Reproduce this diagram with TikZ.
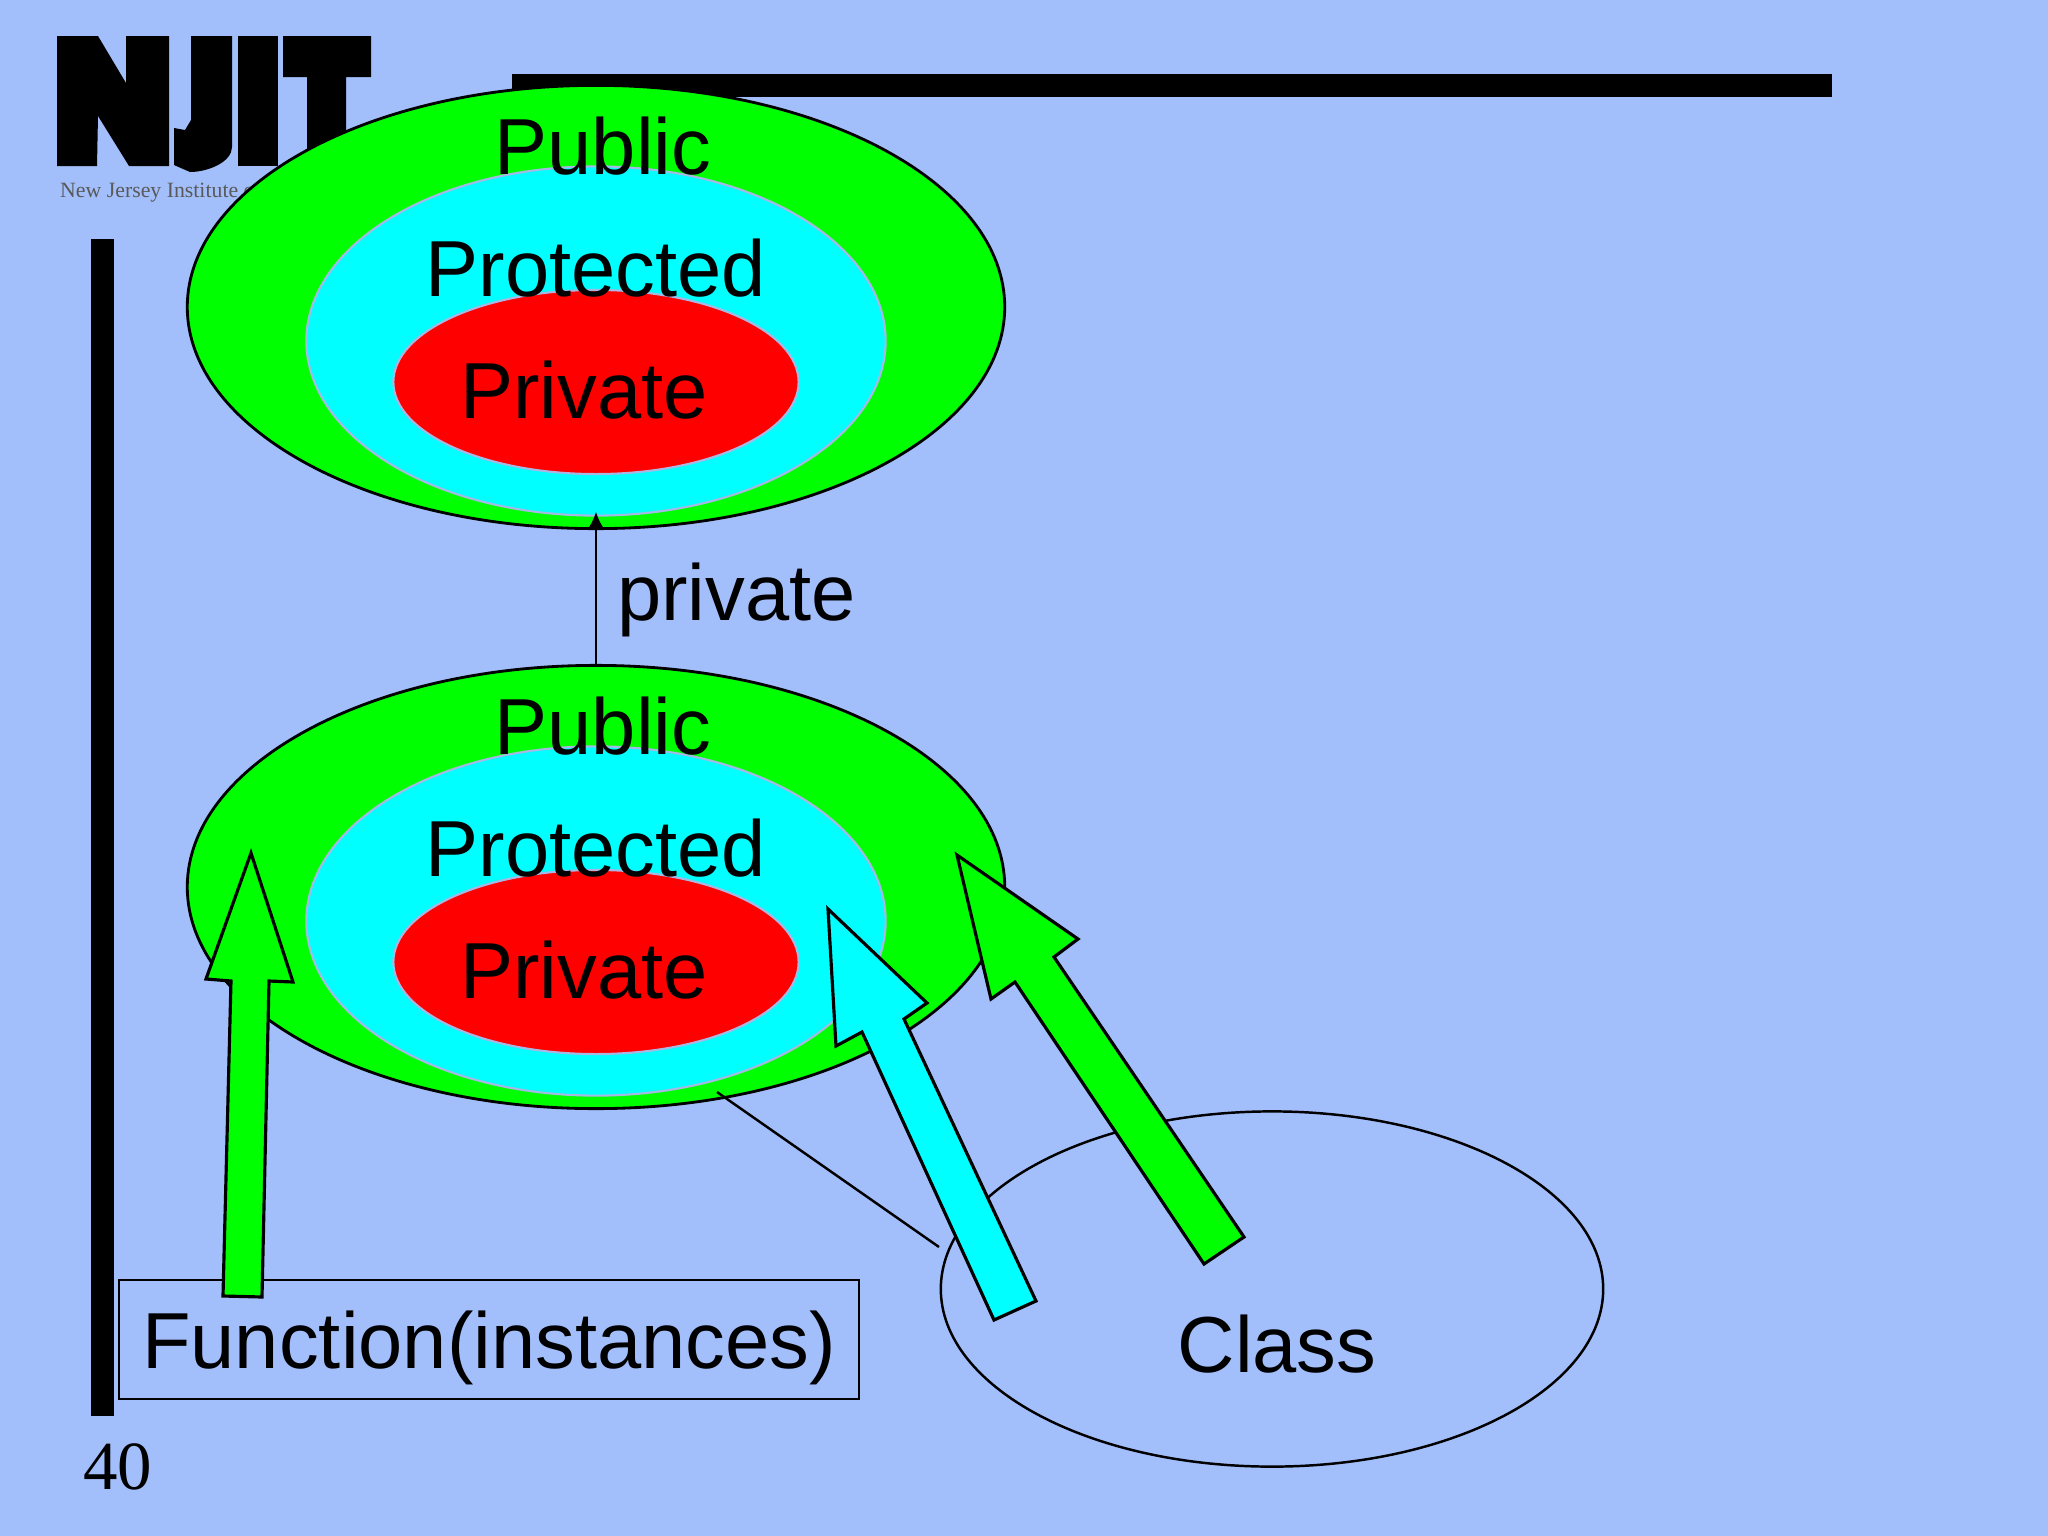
\documentclass[tikz,border=0pt]{standalone}
\usepackage{fontspec}
\setmainfont{Liberation Sans}
\newfontfamily\pagefont{Liberation Serif}
\usetikzlibrary{shapes.geometric, arrows.meta}

\definecolor{slideblue}{HTML}{A3BFFB}
\definecolor{ringedge}{HTML}{A6B8E4}
\definecolor{ringgreen}{HTML}{00FF00}
\definecolor{ringcyan}{HTML}{00FFFF}
\definecolor{ringred}{HTML}{FF0000}

\tikzset{
  bigtext/.style={anchor=base, inner sep=0pt, font=\fontsize{22.6}{27}\selectfont},
  publicring/.style={ellipse, draw=black, fill=ringgreen, line width=0.8pt, inner sep=0pt, minimum width=8.17cm, minimum height=4.43cm},
  protectedring/.style={ellipse, draw=ringedge, fill=ringcyan, line width=0.6pt, inner sep=0pt, minimum width=5.79cm, minimum height=3.49cm},
  privatering/.style={ellipse, draw=ringedge, fill=ringred, line width=0.6pt, inner sep=0pt, minimum width=4.05cm, minimum height=1.84cm},
  blockarrow/.style={draw=black, line width=0.9pt, miter limit=10},
}

\begin{document}
\begin{tikzpicture}[x=0.01cm, y=-0.01cm, line width=0.7pt]

% draw slide background
\fill[slideblue] (0, 0) rectangle (2048, 1536);

% draw logo
\fill[black] (57, 36) -- (98, 36) -- (126, 83) -- (126, 36) -- (169, 36) -- (169, 166)
           -- (129, 166) -- (98, 116) -- (97, 166) -- (57, 166) -- cycle;
\fill[black] (191, 36) -- (232, 36) -- (232, 147) .. controls (232, 162) and (208, 172) .. (190, 172)
           -- (174, 165) -- (174, 128) -- (185, 130) -- (191, 120) -- cycle;
\fill[black] (238, 36) rectangle (278, 166);
\fill[black] (283, 36) -- (371, 36) -- (371, 77) -- (346, 77) -- (346, 166)
           -- (307, 166) -- (307, 77) -- (283, 77) -- cycle;
\node[anchor=base west, inner sep=0pt, text=black!65, font=\pagefont\fontsize{6.2}{8}\selectfont] (logotext) at (59, 197) {New Jersey Institute of};

% draw black bars
\fill[black] (512, 74) rectangle (1832, 97);
\fill[black] (91, 239) rectangle (114, 1416);

% draw upper rings
\node[publicring] (publicA) at (596, 307) {};
\node[protectedring] (protectedA) at (596, 341) {};
\node[privatering] (privateA) at (596, 382) {};

% draw lower rings
\node[publicring] (publicB) at (596, 887) {};
\node[protectedring] (protectedB) at (596, 921) {};
\node[privatering] (privateB) at (596, 962) {};

% draw ring labels
\node[bigtext] (publicAtext) at (603, 174) {Public};
\node[bigtext] (protectedAtext) at (596, 296) {Protected};
\node[bigtext] (privateAtext) at (584, 418) {Private};
\node[bigtext] (publicBtext) at (603, 754) {Public};
\node[bigtext] (protectedBtext) at (596, 876) {Protected};
\node[bigtext] (privateBtext) at (584, 998) {Private};

% draw inheritance arrow
\draw[-{Latex[length=0.16cm, width=0.15cm]}, shorten >=-0.05cm] (publicB.north) -- (protectedA.south);
\node[bigtext, anchor=base west] (inherit) at (616, 620) {private};

% draw function box
\node[draw=black, line width=0.7pt, minimum width=7.4cm, minimum height=1.19cm, inner sep=0pt] (functionbox) at (489, 1339.5) {};
\node[bigtext] (functiontext) at (489, 1368) {Function(instances)};

% draw class ellipse
\node[ellipse, draw=black, line width=0.7pt, inner sep=0pt, minimum width=6.62cm, minimum height=3.55cm] (classring) at (1272, 1289) {};
\node[bigtext] (classtext) at (1277, 1372) {Class};

% draw thin line
\coordinate (linestart) at (717, 1092);
\coordinate (lineend) at (939, 1247);
\draw (linestart) -- (lineend);

% draw block arrows
\filldraw[blockarrow, fill=ringgreen] (251, 853) -- (293, 982) -- (269, 981) -- (262, 1297)
                                   -- (223, 1296) -- (231, 981) -- (206, 979) -- cycle;
\filldraw[blockarrow, fill=ringcyan] (828, 909) -- (927, 1003) -- (904, 1019) -- (1036, 1301)
                                  -- (994, 1320) -- (862, 1032) -- (836, 1046) -- cycle;
\filldraw[blockarrow, fill=ringgreen] (957, 855) -- (1078, 939) -- (1054, 957) -- (1244, 1237)
                                   -- (1204, 1264) -- (1015, 982) -- (991, 999) -- cycle;

% draw page number
\node[anchor=base, inner sep=0pt, font=\pagefont\fontsize{19.6}{24}\selectfont] (pagenumber) at (118, 1489) {40};

\end{tikzpicture}
\end{document}
